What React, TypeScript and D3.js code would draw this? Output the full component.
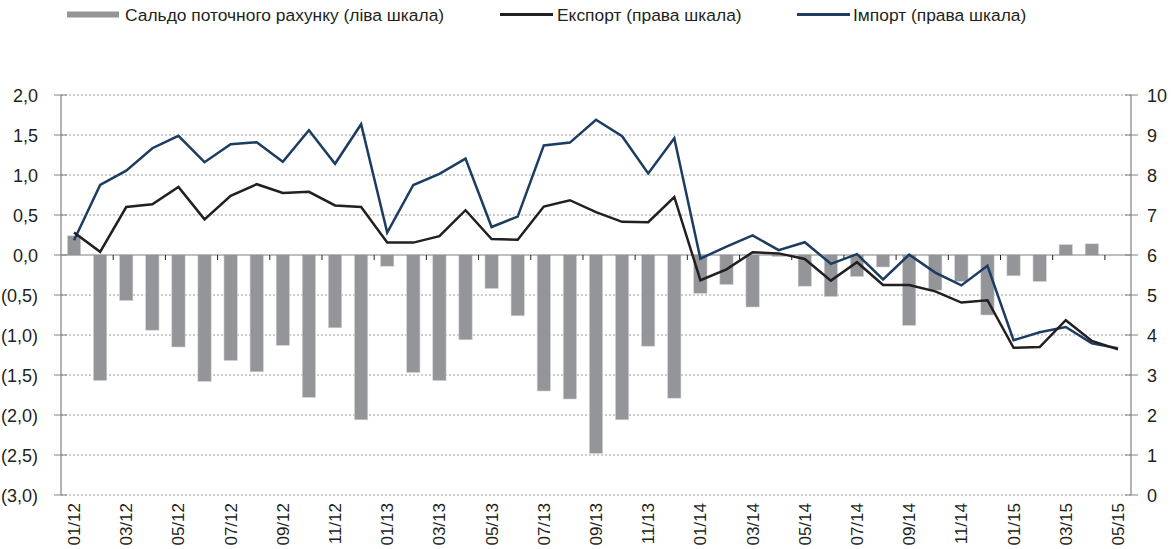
import React from "react";
import * as d3 from "d3";

const months: string[] = [
  "01/12","02/12","03/12","04/12","05/12","06/12","07/12","08/12","09/12","10/12","11/12","12/12",
  "01/13","02/13","03/13","04/13","05/13","06/13","07/13","08/13","09/13","10/13","11/13","12/13",
  "01/14","02/14","03/14","04/14","05/14","06/14","07/14","08/14","09/14","10/14","11/14","12/14",
  "01/15","02/15","03/15","04/15","05/15",
];

const balance: number[] = [
  0.24, -1.57, -0.57, -0.94, -1.15, -1.58, -1.32, -1.46, -1.13, -1.78, -0.91, -2.06,
  -0.14, -1.47, -1.57, -1.06, -0.42, -0.76, -1.70, -1.80, -2.48, -2.06, -1.14, -1.79,
  -0.48, -0.37, -0.65, -0.02, -0.39, -0.52, -0.27, -0.15, -0.88, -0.44, -0.33, -0.75,
  -0.26, -0.33, 0.13, 0.14, 0.0,
];

const exportVals: number[] = [
  6.56, 6.08, 7.2, 7.27, 7.7, 6.89, 7.48, 7.77, 7.55, 7.58, 7.24, 7.2,
  6.31, 6.31, 6.47, 7.12, 6.4, 6.38, 7.21, 7.37, 7.07, 6.83, 6.82, 7.45,
  5.37, 5.64, 6.07, 6.04, 5.9, 5.36, 5.82, 5.25, 5.25, 5.09, 4.81, 4.87,
  3.68, 3.7, 4.37, 3.85, 3.64,
];

const importVals: number[] = [
  6.37, 7.75, 8.11, 8.67, 8.98, 8.32, 8.77, 8.82, 8.33, 9.12, 8.28, 9.27,
  6.56, 7.75, 8.03, 8.41, 6.7, 6.96, 8.74, 8.81, 9.38, 8.97, 8.04, 8.92,
  5.91, 6.21, 6.49, 6.12, 6.32, 5.78, 6.02, 5.39, 6.01, 5.56, 5.24, 5.73,
  3.87, 4.07, 4.2, 3.79, 3.67,
];

const leftTicks: number[] = [2, 1.5, 1, 0.5, 0, -0.5, -1, -1.5, -2, -2.5, -3];
const rightTicks: number[] = [10, 9, 8, 7, 6, 5, 4, 3, 2, 1, 0];

const legendLabels = [
  "Сальдо поточного рахунку (ліва шкала)",
  "Експорт (права шкала)",
  "Імпорт (права шкала)",
];

const W = 1171;
const H = 549;
const X0 = 61;
const X1 = 1131;
const YT = 95;
const YB = 495;

const BAR = "#939598";
const EXP = "#231F20";
const IMP = "#1D3C62";
const AX = "#808080";
const FONT = "'Liberation Sans', Arial, Helvetica, sans-serif";

const fmtLeft = (v: number) => {
  const s = Math.abs(v).toFixed(1).replace(".", ",");
  return v < 0 ? `(${s})` : s;
};

export default function App() {
  const x = d3
    .scaleBand<number>()
    .domain(months.map((_, i) => i))
    .range([X0, X1])
    .paddingInner(0.49)
    .paddingOuter(0.245);
  const step = x.step();
  const cx = (i: number) => (x(i) as number) + x.bandwidth() / 2;
  const yL = d3.scaleLinear().domain([-3, 2]).range([YB, YT]);
  const yR = d3.scaleLinear().domain([0, 10]).range([YB, YT]);

  const lineGen = d3
    .line<number>()
    .x((_, i) => cx(i))
    .y((d) => yR(d));

  const y0 = yL(0);
  const tickIdx = d3.range(2, months.length + 1, 2);

  return (
    <svg
      width={W}
      height={H}
      style={{ position: "absolute", left: 0, top: 0, background: "#fff" }}
      fontFamily={FONT}
    >
      {/* legend */}
      <g>
        <rect x={67} y={11.5} width={52} height={6} fill={BAR} />
        <text x={125} y={21} fontSize={17.4} fill={EXP}>{legendLabels[0]}</text>
        <line x1={500} x2={553} y1={14.5} y2={14.5} stroke={EXP} strokeWidth={3} />
        <text x={557} y={21} fontSize={17.4} fill={EXP}>{legendLabels[1]}</text>
        <line x1={797} x2={850} y1={14.5} y2={14.5} stroke={IMP} strokeWidth={3} />
        <text x={853} y={21} fontSize={17.4} fill={EXP}>{legendLabels[2]}</text>
      </g>

      {/* grid */}
      {leftTicks.filter((t) => t !== 0).map((t) => (
        <line
          key={"g" + t}
          x1={X0}
          x2={X1}
          y1={yL(t)}
          y2={yL(t)}
          stroke="#9a9a9a"
          strokeWidth={1}
          strokeDasharray="2,2"
        />
      ))}

      {/* bars */}
      {balance.map((v, i) => (
        <rect
          key={"b" + i}
          x={x(i)}
          y={Math.min(yL(v), y0)}
          width={x.bandwidth()}
          height={Math.abs(yL(v) - y0)}
          fill={BAR}
          stroke="#d4d4d6"
          strokeWidth={0.6}
        />
      ))}

      {/* zero line and category ticks */}
      <line x1={X0} x2={X1} y1={y0} y2={y0} stroke={AX} strokeWidth={1.2} />
      {tickIdx.map((k) => (
        <line
          key={"t" + k}
          x1={X0 + k * step}
          x2={X0 + k * step}
          y1={y0}
          y2={y0 + 5}
          stroke={EXP}
          strokeWidth={1}
        />
      ))}

      {/* axes */}
      <line x1={X0} x2={X0} y1={YT} y2={YB} stroke={AX} strokeWidth={1.2} />
      <line x1={X1} x2={X1} y1={YT} y2={YB} stroke={AX} strokeWidth={1.2} />
      {leftTicks.map((t) => (
        <g key={"l" + t}>
          <line x1={X0 - 7} x2={X0 + 6} y1={yL(t)} y2={yL(t)} stroke={AX} strokeWidth={1} />
          <text x={38} y={yL(t) + 6.5} fontSize={18} textAnchor="end" fill={EXP}>
            {fmtLeft(t)}
          </text>
        </g>
      ))}
      {rightTicks.map((t) => (
        <g key={"r" + t}>
          <line x1={X1 - 6} x2={X1 + 7} y1={yR(t)} y2={yR(t)} stroke={AX} strokeWidth={1} />
          <text x={1147} y={yR(t) + 6.5} fontSize={18} textAnchor="start" fill={EXP}>
            {String(t)}
          </text>
        </g>
      ))}

      {/* lines */}
      <path d={lineGen(importVals) || ""} fill="none" stroke={IMP} strokeWidth={2.5} strokeLinejoin="miter" />
      <path d={lineGen(exportVals) || ""} fill="none" stroke={EXP} strokeWidth={2.5} strokeLinejoin="miter" />

      {/* x labels */}
      {months.map((m, i) =>
        i % 2 === 0 ? (
          <text
            key={"x" + i}
            transform={`translate(${cx(i) + 6},503) rotate(-90)`}
            textAnchor="end"
            fontSize={17}
            fill={EXP}
          >
            {m}
          </text>
        ) : null
      )}
    </svg>
  );
}
